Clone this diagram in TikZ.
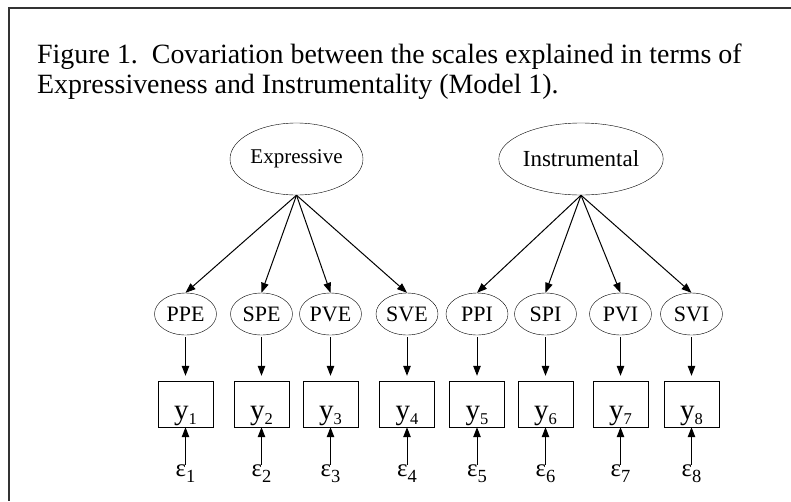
\documentclass[tikz,border=0pt]{standalone}
\usepackage{fontspec}
\setmainfont{Liberation Serif}
\usetikzlibrary{arrows.meta,shapes.geometric}
\newcommand{\ysub}[1]{y\raisebox{-5pt}{\fontsize{16.5}{16.5}\selectfont #1}}
\newcommand{\esub}[1]{{\fontsize{25}{25}\selectfont ε}\raisebox{-6pt}{\fontsize{18.5}{18.5}\selectfont #1}}
\begin{document}
\begin{tikzpicture}[x=1pt, y=-1pt, node distance=90pt, every node/.style={align=center}]
        \tikzstyle{latent}=[ellipse, draw, inner sep=0pt, minimum width=133pt, minimum height=72pt];
        \tikzstyle{indicator}=[ellipse, draw, inner sep=0pt, minimum width=62pt, minimum height=42pt, font=\fontsize{22}{22}\selectfont];
        \tikzstyle{obsbox}=[rectangle, draw, inner sep=0pt, minimum width=55pt, text height=38pt, text depth=8pt, font=\fontsize{29}{29}\selectfont];
        \tikzstyle{errlabel}=[inner sep=0pt];
        \tikzstyle{edge}=[-{Triangle[length=10pt,width=7.5pt]}, line width=1pt];
        \useasboundingbox (0,0) rectangle (791,501);
        \draw[line width=1.6pt, black!80] (791,8) -- (9,8) -- (9,501);
        \node[anchor=north west, inner sep=0pt, align=left, font=\fontsize{27.9}{30}\selectfont] (title) at (37,43.5)
            {Figure 1.\ \ Covariation between the scales explained in terms of\\Expressiveness and Instrumentality (Model 1).};
        % factors
        \node[latent, font=\fontsize{21}{21}\selectfont] (exp) at (296.5,159) {Expressive};
        \node[latent, minimum width=132pt, font=\fontsize{23}{23}\selectfont] (ins) at (581,159) {Instrumental};
        % scales
        \node[indicator] (ppe) at (185.5,314) {PPE};
        \node[indicator] (spe) at (261.5,314) {SPE};
        \node[indicator] (pve) at (330.5,314) {PVE};
        \node[indicator] (sve) at (407,314) {SVE};
        \node[indicator] (ppi) at (477,314) {PPI};
        \node[indicator] (spi) at (545.5,314) {SPI};
        \node[indicator] (pvi) at (620.5,314) {PVI};
        \node[indicator] (svi) at (691.5,314) {SVI};
        % observed
        \node[obsbox, below of=ppe] (y1) {\ysub{1}};
        \node[obsbox, below of=spe] (y2) {\ysub{2}};
        \node[obsbox, below of=pve] (y3) {\ysub{3}};
        \node[obsbox, below of=sve] (y4) {\ysub{4}};
        \node[obsbox, below of=ppi] (y5) {\ysub{5}};
        \node[obsbox, below of=spi] (y6) {\ysub{6}};
        \node[obsbox, below of=pvi] (y7) {\ysub{7}};
        \node[obsbox, below of=svi] (y8) {\ysub{8}};
        % errors
        \node[errlabel, below of=y1, yshift=20pt] (e1) {\esub{1}};
        \node[errlabel, below of=y2, yshift=20pt] (e2) {\esub{2}};
        \node[errlabel, below of=y3, yshift=20pt] (e3) {\esub{3}};
        \node[errlabel, below of=y4, yshift=20pt] (e4) {\esub{4}};
        \node[errlabel, below of=y5, yshift=20pt] (e5) {\esub{5}};
        \node[errlabel, below of=y6, yshift=20pt] (e6) {\esub{6}};
        \node[errlabel, below of=y7, yshift=20pt] (e7) {\esub{7}};
        \node[errlabel, below of=y8, yshift=20pt] (e8) {\esub{8}};
        \draw[edge] (exp.south) -- (ppe.north);
        \draw[edge] (exp.south) -- (spe.north);
        \draw[edge] (exp.south) -- (pve.north);
        \draw[edge] (exp.south) -- (sve.north);
        \draw[edge] (ins.south) -- (ppi.north);
        \draw[edge] (ins.south) -- (spi.north);
        \draw[edge] (ins.south) -- (pvi.north);
        \draw[edge] (ins.south) -- (svi.north);
        \draw[edge, shorten <=2pt, shorten >=5pt] (ppe) -- (y1);
        \draw[edge, shorten <=2pt, shorten >=5pt] (spe) -- (y2);
        \draw[edge, shorten <=2pt, shorten >=5pt] (pve) -- (y3);
        \draw[edge, shorten <=2pt, shorten >=5pt] (sve) -- (y4);
        \draw[edge, shorten <=2pt, shorten >=5pt] (ppi) -- (y5);
        \draw[edge, shorten <=2pt, shorten >=5pt] (spi) -- (y6);
        \draw[edge, shorten <=2pt, shorten >=5pt] (pvi) -- (y7);
        \draw[edge, shorten <=2pt, shorten >=5pt] (svi) -- (y8);
        \draw[edge] (e1) -- (y1);
        \draw[edge] (e2) -- (y2);
        \draw[edge] (e3) -- (y3);
        \draw[edge] (e4) -- (y4);
        \draw[edge] (e5) -- (y5);
        \draw[edge] (e6) -- (y6);
        \draw[edge] (e7) -- (y7);
        \draw[edge] (e8) -- (y8);
\end{tikzpicture}
\end{document}
